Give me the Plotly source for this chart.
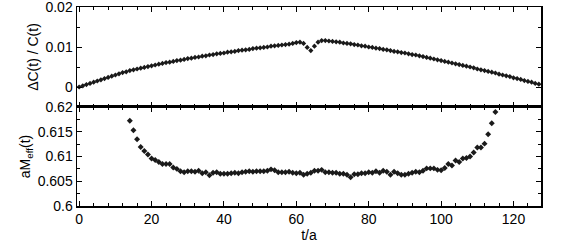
import plotly.graph_objects as go
from plotly.subplots import make_subplots

# ---- data ----
t_top = list(range(0, 128))
dC_over_C = [
    0.0000, 0.0003, 0.0006, 0.0009, 0.0012, 0.0015, 0.0018, 0.0021, 0.0024, 0.0027,
    0.0030, 0.0033, 0.0036, 0.0038, 0.0041, 0.0043, 0.0045, 0.0047, 0.0049, 0.0051,
    0.0053, 0.0055, 0.0057, 0.0059, 0.0061, 0.0062, 0.0064, 0.0066, 0.0067, 0.0069,
    0.0071, 0.0072, 0.0074, 0.0075, 0.0077, 0.0078, 0.0080, 0.0081, 0.0083, 0.0084,
    0.0085, 0.0087, 0.0088, 0.0089, 0.0091, 0.0092, 0.0093, 0.0094, 0.0096, 0.0097,
    0.0098, 0.0099, 0.0100, 0.0102, 0.0103, 0.0104, 0.0105, 0.0106, 0.0107, 0.0109,
    0.0111, 0.0112, 0.0109, 0.0099, 0.0091, 0.0102, 0.0112, 0.0116, 0.0116, 0.0115,
    0.0114, 0.0113, 0.0112, 0.0110, 0.0109, 0.0108, 0.0106, 0.0105, 0.0103, 0.0102,
    0.0100, 0.0099, 0.0097, 0.0096, 0.0094, 0.0093, 0.0091, 0.0089, 0.0088, 0.0086,
    0.0085, 0.0083, 0.0081, 0.0080, 0.0078, 0.0076, 0.0074, 0.0072, 0.0070, 0.0068,
    0.0066, 0.0064, 0.0062, 0.0060, 0.0058, 0.0056, 0.0054, 0.0052, 0.0050, 0.0048,
    0.0045, 0.0043, 0.0041, 0.0039, 0.0037, 0.0035, 0.0032, 0.0030, 0.0028, 0.0026,
    0.0023, 0.0021, 0.0019, 0.0016, 0.0014, 0.0012, 0.0009, 0.0007,
]

t_bot = list(range(14, 116))
aMeff = [
    0.6172, 0.6153, 0.6135, 0.6119, 0.6111, 0.6104, 0.6096, 0.6093, 0.6089, 0.6085,
    0.6085, 0.6085, 0.6078, 0.6075, 0.6070, 0.6068, 0.6070, 0.6070, 0.6069, 0.6071,
    0.6066, 0.6068, 0.6062, 0.6067, 0.6068, 0.6065, 0.6065, 0.6065, 0.6066, 0.6067,
    0.6066, 0.6068, 0.6069, 0.6070, 0.6069, 0.6070, 0.6070, 0.6070, 0.6071, 0.6074,
    0.6072, 0.6068, 0.6068, 0.6068, 0.6069, 0.6067, 0.6066, 0.6067, 0.6063, 0.6065,
    0.6067, 0.6071, 0.6071, 0.6073, 0.6068, 0.6068, 0.6067, 0.6067, 0.6065, 0.6065,
    0.6063, 0.6058, 0.6064, 0.6064, 0.6066, 0.6066, 0.6068, 0.6067, 0.6070, 0.6067,
    0.6071, 0.6069, 0.6063, 0.6069, 0.6066, 0.6063, 0.6063, 0.6065, 0.6067, 0.6069,
    0.6068, 0.6071, 0.6076, 0.6076, 0.6076, 0.6073, 0.6072, 0.6077, 0.6085, 0.6082,
    0.6092, 0.6089, 0.6096, 0.6097, 0.6100, 0.6108, 0.6118, 0.6118, 0.6126, 0.6145,
    0.6167, 0.6190,
]
aMeff_err = [0.0003] * len(aMeff)

x_ticks = [0, 20, 40, 60, 80, 100, 120]
top_y_ticks = [0, 0.01, 0.02]
top_y_labels = ["0", "0.01", "0.02"]
bot_y_ticks = [0.6, 0.605, 0.61, 0.615, 0.62]
bot_y_labels = ["0.6", "0.605", "0.61", "0.615", "0.62"]

# ---- figure ----
ink = "#1a1a1a"
font_family = "Liberation Sans, Arial, sans-serif"
fig = make_subplots(rows=2, cols=1, shared_xaxes=False, vertical_spacing=0.0)

fig.add_trace(go.Scatter(
    x=t_top, y=dC_over_C, mode="markers",
    marker=dict(symbol="diamond", size=4.0, color=ink),
    showlegend=False, hoverinfo="skip"), row=1, col=1)

fig.add_trace(go.Scatter(
    x=t_bot, y=aMeff, mode="markers",
    marker=dict(symbol="diamond", size=4.6, color=ink),
    error_y=dict(type="data", array=aMeff_err, color=ink, thickness=1.2, width=0),
    showlegend=False, hoverinfo="skip"), row=2, col=1)

axis_common = dict(
    showline=True, linecolor="black", linewidth=1.5, mirror="allticks",
    ticks="inside", ticklen=5, tickwidth=1, tickcolor="black",
    showgrid=False, zeroline=False, ticklabeloverflow="allow",
    tickfont=dict(family=font_family, size=14, color="black"),
)
xr = [-0.6, 127.6]

fig.update_xaxes(**axis_common, range=xr, tickvals=x_ticks, showticklabels=False,
                 minor=dict(dtick=4, tick0=0, ticks="inside", ticklen=3, tickcolor="black"),
                 row=1, col=1)
fig.update_xaxes(**axis_common, range=xr, tickvals=x_ticks,
                 minor=dict(dtick=4, tick0=0, ticks="inside", ticklen=3, tickcolor="black"),
                 title=dict(text="t/a", standoff=0,
                            font=dict(family=font_family, size=14, color="black")),
                 row=2, col=1)
fig.update_yaxes(**axis_common, range=[-0.005, 0.020001], tickvals=top_y_ticks, ticktext=top_y_labels,
                 minor=dict(dtick=0.005, tick0=0, ticks="inside", ticklen=3, tickcolor="black"),
                 title=dict(text="ΔC(t) / C(t)", standoff=3,
                            font=dict(family=font_family, size=14, color="black")),
                 row=1, col=1)
fig.update_yaxes(**axis_common, range=[0.6, 0.62], tickvals=bot_y_ticks, ticktext=bot_y_labels,
                 minor=dict(dtick=0.0025, tick0=0.6, ticks="inside", ticklen=3, tickcolor="black"),
                 title=dict(text="aM<sub>eff</sub>(t)", standoff=3,
                            font=dict(family=font_family, size=14, color="black")),
                 row=2, col=1)

fig.update_layout(
    width=581, height=243,
    margin=dict(l=77, r=40, t=7, b=37, autoexpand=False),
    paper_bgcolor="white", plot_bgcolor="white",
    hovermode=False,
)
fig.layout.yaxis.domain = [0.4975, 1.0]
fig.layout.yaxis2.domain = [0.0, 0.4975]

fig.write_html("out.html", config={"displayModeBar": False, "staticPlot": True},
               post_script="document.body.style.margin='0px';document.body.style.overflow='hidden';")
